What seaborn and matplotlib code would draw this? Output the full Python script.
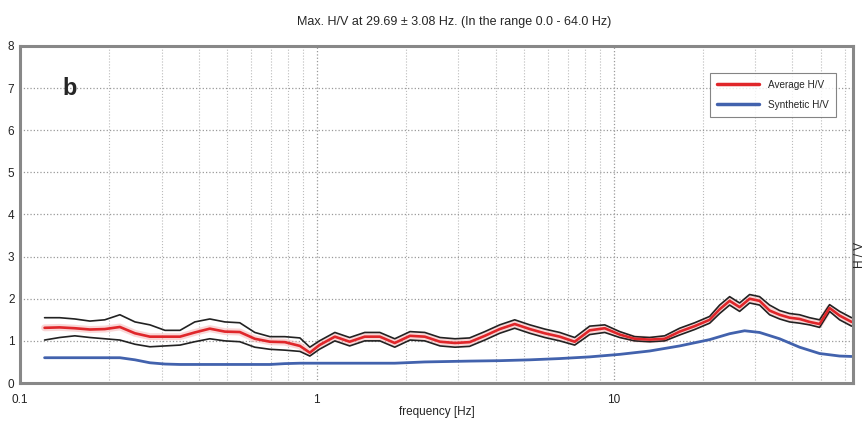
import numpy as np
import pandas as pd
import matplotlib
matplotlib.use("Agg")
import matplotlib.pyplot as plt
import seaborn as sns
from matplotlib.ticker import FixedLocator, FixedFormatter, LogLocator, NullFormatter

# ---- data ----
freq = [0.121, 0.136, 0.153, 0.172, 0.193, 0.217, 0.244, 0.274, 0.308, 0.346,
        0.388, 0.436, 0.490, 0.550, 0.618, 0.695, 0.780, 0.877, 0.947, 1.02,
        1.15, 1.29, 1.45, 1.63, 1.83, 2.06, 2.31, 2.60, 2.92, 3.27,
        3.68, 4.13, 4.64, 5.22, 5.86, 6.58, 7.39, 8.30, 9.33, 10.48,
        11.77, 13.22, 14.85, 16.68, 18.74, 21.05, 22.75, 24.58, 26.56, 28.70,
        31.01, 33.51, 36.22, 39.13, 42.29, 45.71, 49.39, 53.37, 57.68, 63.3]
average_hv = [1.31, 1.32, 1.30, 1.27, 1.28, 1.33, 1.18, 1.10, 1.10, 1.10,
              1.20, 1.29, 1.22, 1.21, 1.05, 0.98, 0.97, 0.88, 0.72, 0.90,
              1.10, 0.98, 1.10, 1.10, 0.95, 1.12, 1.10, 0.98, 0.95, 0.97,
              1.12, 1.28, 1.40, 1.28, 1.18, 1.10, 0.98, 1.25, 1.30, 1.15,
              1.05, 1.03, 1.05, 1.22, 1.35, 1.50, 1.75, 1.95, 1.80, 2.00,
              1.95, 1.72, 1.62, 1.55, 1.52, 1.45, 1.40, 1.78, 1.60, 1.45]
upper_hv = [1.55, 1.55, 1.52, 1.47, 1.50, 1.62, 1.45, 1.38, 1.25, 1.25,
            1.45, 1.52, 1.45, 1.43, 1.20, 1.10, 1.10, 1.07, 0.85, 1.00,
            1.20, 1.08, 1.20, 1.20, 1.05, 1.22, 1.20, 1.08, 1.05, 1.07,
            1.22, 1.38, 1.50, 1.38, 1.28, 1.20, 1.08, 1.35, 1.38, 1.22,
            1.10, 1.08, 1.12, 1.30, 1.43, 1.58, 1.85, 2.05, 1.90, 2.10,
            2.05, 1.85, 1.72, 1.65, 1.62, 1.55, 1.50, 1.86, 1.70, 1.55]
lower_hv = [1.02, 1.08, 1.12, 1.08, 1.05, 1.02, 0.92, 0.86, 0.88, 0.90,
            0.98, 1.05, 1.00, 0.98, 0.85, 0.80, 0.78, 0.75, 0.64, 0.80,
            1.00, 0.88, 1.00, 1.00, 0.85, 1.02, 1.00, 0.88, 0.85, 0.87,
            1.02, 1.18, 1.30, 1.18, 1.08, 1.00, 0.90, 1.15, 1.20, 1.08,
            1.00, 0.98, 1.00, 1.14, 1.27, 1.42, 1.65, 1.85, 1.70, 1.90,
            1.85, 1.62, 1.52, 1.45, 1.42, 1.38, 1.32, 1.70, 1.50, 1.35]

synth_freq = [0.121, 0.217, 0.244, 0.274, 0.308, 0.346, 0.695, 0.780, 0.877, 1.02,
              1.29, 1.83, 2.31, 3.27, 4.13, 5.22, 6.58, 8.30, 10.48, 13.22,
              16.68, 21.05, 24.58, 27.6, 31.01, 36.22, 42.29, 49.39, 57.68, 63.3]
synthetic_hv = [0.60, 0.60, 0.55, 0.48, 0.45, 0.44, 0.44, 0.46, 0.47, 0.47,
                0.47, 0.47, 0.50, 0.52, 0.53, 0.55, 0.58, 0.62, 0.68, 0.76,
                0.88, 1.03, 1.17, 1.24, 1.20, 1.05, 0.85, 0.70, 0.64, 0.63]

x_ticks = [0.1, 1, 10]
x_tick_labels = ["0.1", "1", "10"]
y_ticks = [0, 1, 2, 3, 4, 5, 6, 7, 8]

title = "Max. H/V at 29.69 \u00b1 3.08 Hz. (In the range 0.0 - 64.0 Hz)"

# ---- plot ----
sns.set_theme(style="white")
plt.rcParams["font.family"] = ["Liberation Sans", "DejaVu Sans"]

fig = plt.figure(figsize=(8.68, 4.25), dpi=100)
ax = fig.add_axes([20 / 868, 1 - 383 / 425, (853 - 20) / 868, (383 - 46) / 425])

df = pd.DataFrame({"f": freq, "avg": average_hv, "up": upper_hv, "lo": lower_hv})
ds = pd.DataFrame({"f": synth_freq, "syn": synthetic_hv})

sns.lineplot(data=df, x="f", y="avg", ax=ax, color="#f5b0b0", lw=5, alpha=0.5, legend=False)
sns.lineplot(data=df, x="f", y="up", ax=ax, color="#222222", lw=1.2, legend=False)
sns.lineplot(data=df, x="f", y="lo", ax=ax, color="#222222", lw=1.2, legend=False)
sns.lineplot(data=df, x="f", y="avg", ax=ax, color="#e0262a", lw=1.9, label="Average H/V")
sns.lineplot(data=ds, x="f", y="syn", ax=ax, color="#4262ad", lw=2.0, label="Synthetic H/V")

ax.set_xscale("log")
ax.set_xlim(0.1, 64)
ax.set_ylim(0, 8)
ax.xaxis.set_major_locator(FixedLocator(x_ticks))
ax.xaxis.set_major_formatter(FixedFormatter(x_tick_labels))
ax.xaxis.set_minor_locator(LogLocator(base=10, subs=np.arange(2, 10), numticks=20))
ax.xaxis.set_minor_formatter(NullFormatter())
ax.set_yticks(y_ticks)
ax.tick_params(axis="both", which="both", length=0, labelsize=8.5, colors="#222222")
ax.tick_params(axis="x", pad=8)
ax.tick_params(axis="y", pad=4)

ax.grid(True, which="major", axis="both", linestyle=":", color="#999999", lw=0.9)
ax.grid(True, which="minor", axis="x", linestyle=":", color="#bbbbbb", lw=0.8)

for s in ax.spines.values():
    s.set_color("#888888")
    s.set_linewidth(2.2)

ax.set_xlabel("frequency [Hz]", fontsize=8.5, labelpad=0)
ax.set_ylabel("")
fig.text(454 / 868, 1 - 22 / 425, title, ha="center", va="center", fontsize=9)
fig.text(860 / 868, 1 - 255 / 425, "H / V", rotation=90, ha="center", va="center", fontsize=8.5)
ax.text(0.147, 7.0, "b", fontsize=17, fontweight="bold", ha="center", va="center")

leg = ax.legend(loc="upper right", fontsize=7.2, frameon=True, fancybox=False,
                edgecolor="#666666", handlelength=4.2, handletextpad=0.9,
                borderpad=0.7, labelspacing=1.0,
                bbox_to_anchor=(0.985, 0.935))
leg.get_frame().set_linewidth(0.8)
for h in leg.get_lines():
    h.set_linewidth(2.5)

fig.savefig("out.png", dpi=100)
